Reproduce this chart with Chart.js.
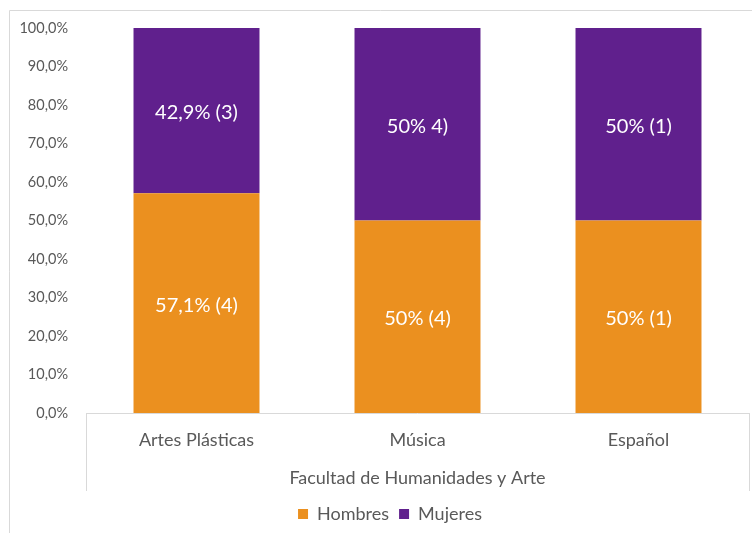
<!DOCTYPE html>
<html>
<head>
<meta charset="utf-8">
<script src="https://cdn.jsdelivr.net/npm/chart.js@4"></script>
<style>
  html, body { margin: 0; padding: 0; background: #fff; }
  #wrap { width: 752px; height: 533px; }
</style>
</head>
<body>
<div id="wrap"><canvas id="facultadChart"></canvas></div>
<script>
const carreras = ['Artes Plásticas', 'Música', 'Español'];
const hombres = [57.1, 50, 50];
const mujeres = [42.9, 50, 50];
const etiquetasHombres = ['57,1% (4)', '50% (4)', '50% (1)'];
const etiquetasMujeres = ['42,9% (3)', '50% 4)', '50% (1)'];
const grupo = 'Facultad de Humanidades y Arte';

const FONT = 'Lato, "Open Sans", sans-serif';
const GRIS = '#595959';
const LINEA = '#d9d9d9';

// white text centered in every bar segment
const etiquetas = {
    id: 'etiquetas',
    afterDatasetsDraw(chart) {
        const ctx = chart.ctx;
        const textos = [etiquetasHombres, etiquetasMujeres];
        ctx.save();
        ctx.font = '20px ' + FONT;
        ctx.fillStyle = '#ffffff';
        ctx.textAlign = 'center';
        ctx.textBaseline = 'middle';
        chart.data.datasets.forEach((ds, i) => {
            chart.getDatasetMeta(i).data.forEach((bar, j) => {
                const p = bar.getProps(['x', 'y', 'base'], true);
                ctx.fillText(textos[i][j], p.x, (p.y + p.base) / 2 + 2);
            });
        });
        ctx.restore();
    }
};

// frame lines: outer border and the box around the category axis
const marco = {
    id: 'marco',
    afterLayout(chart) {
        // legend sits a bit right of the canvas center
        chart.legend.left += 31;
    },
    beforeDraw(chart) {
        const ctx = chart.ctx;
        const area = chart.chartArea;
        ctx.save();
        ctx.strokeStyle = LINEA;
        ctx.lineWidth = 1;
        ctx.beginPath();
        ctx.moveTo(9.5, chart.height);
        ctx.lineTo(9.5, 10.5);
        ctx.lineTo(chart.width, 10.5);
        ctx.moveTo(Math.round(area.left) + 0.5, area.bottom);
        ctx.lineTo(Math.round(area.left) + 0.5, 491);
        ctx.moveTo(Math.round(area.right) + 0.5, area.bottom);
        ctx.lineTo(Math.round(area.right) + 0.5, 491);
        ctx.moveTo(area.left, Math.round(area.bottom) + 0.5);
        ctx.lineTo(area.right, Math.round(area.bottom) + 0.5);
        ctx.stroke();
        ctx.restore();
    }
};

new Chart(document.getElementById('facultadChart'), {
    type: 'bar',
    data: {
        labels: carreras,
        datasets: [{
            label: 'Hombres',
            data: hombres,
            backgroundColor: '#eb901f',
            categoryPercentage: 1,
            barPercentage: 0.57
        }, {
            label: 'Mujeres',
            data: mujeres,
            backgroundColor: '#60208d',
            categoryPercentage: 1,
            barPercentage: 0.57
        }]
    },
    options: {
        responsive: true,
        maintainAspectRatio: false,
        animation: false,
        layout: {
            padding: { top: 28, right: 3, left: 0, bottom: 0 }
        },
        plugins: {
            legend: {
                position: 'bottom',
                labels: {
                    boxWidth: 10,
                    boxHeight: 10,
                    padding: 10,
                    color: GRIS,
                    font: { family: FONT, size: 18 }
                }
            },
            tooltip: { enabled: false }
        },
        scales: {
            x: {
                stacked: true,
                grid: { display: false, drawTicks: false },
                border: { display: false },
                ticks: {
                    color: GRIS,
                    padding: 16,
                    font: { family: FONT, size: 18 }
                },
                title: {
                    display: true,
                    text: grupo,
                    color: GRIS,
                    font: { family: FONT, size: 18 },
                    padding: { top: 0, bottom: 6 }
                },
                afterFit(scale) { scale.height = 82; }
            },
            y: {
                stacked: true,
                min: 0,
                max: 100,
                grid: { display: false, drawTicks: false },
                border: { display: false },
                ticks: {
                    stepSize: 10,
                    color: GRIS,
                    padding: 18,
                    font: { family: FONT, size: 14.5 },
                    callback: v => v.toFixed(1).replace('.', ',') + '%'
                },
                afterFit(scale) { scale.width = 86; }
            }
        }
    },
    plugins: [etiquetas, marco]
});
</script>
</body>
</html>
